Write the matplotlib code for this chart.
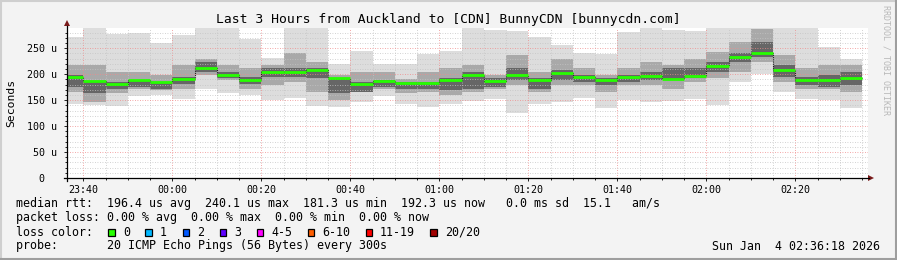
import datetime as dt
import matplotlib
matplotlib.use("Agg")
import matplotlib.pyplot as plt
import matplotlib.dates as mdates
from matplotlib.patches import Rectangle, Polygon
from matplotlib.lines import Line2D

# 5 minute steps, value stamped at the end of each step
step_end = [dt.datetime(2026, 1, 3, 23, 40) + dt.timedelta(minutes=5 * k) for k in range(36)]

median = [195, 187, 181, 188, 185, 191, 212, 199, 189, 204, 204, 208, 193, 181, 187, 183, 183, 189,
          199, 187, 199, 188, 203, 195, 189, 195, 197, 191, 197, 216, 233, 240, 208, 189, 188, 193]
ping_min = [143, 141, 139, 158, 160, 153, 172, 163, 160, 150, 154, 139, 137, 147, 158, 142, 137, 143,
            148, 152, 126, 142, 147, 154, 135, 150, 147, 148, 152, 140, 184, 201, 166, 153, 150, 135]
ping_max = [272, 289, 278, 280, 260, 276, 289, 289, 268, 231, 289, 289, 220, 244, 220, 220, 238, 244,
            289, 285, 283, 272, 256, 240, 238, 281, 289, 286, 283, 289, 289, 289, 289, 289, 252, 230]
band_lo = [166, 147, 163, 172, 169, 172, 198, 188, 172, 179, 185, 166, 150, 166, 172, 163, 166, 160,
           166, 172, 179, 166, 179, 179, 166, 179, 179, 172, 185, 192, 204, 224, 185, 172, 172, 166]
band_hi = [217, 218, 204, 204, 198, 217, 230, 217, 211, 217, 240, 224, 198, 204, 204, 191, 204, 211,
           217, 198, 237, 204, 230, 211, 198, 211, 224, 217, 230, 243, 262, 288, 237, 211, 217, 217]
core_lo = [176, 163, 172, 176, 172, 182, 204, 192, 182, 195, 195, 192, 163, 166, 176, 172, 172, 169,
           172, 176, 188, 172, 188, 185, 179, 185, 188, 188, 192, 204, 224, 233, 195, 179, 176, 179]
core_hi = [198, 187, 185, 188, 185, 195, 224, 204, 195, 211, 211, 211, 192, 185, 188, 185, 185, 192,
           204, 192, 211, 192, 208, 198, 192, 198, 204, 211, 211, 224, 240, 262, 217, 195, 198, 204]

loss_labels = ["0", "1", "2", "3", "4-5", "6-10", "11-19", "20/20"]
loss_colors = ["#26ff00", "#00b8ff", "#0059ff", "#5e00ff", "#ff00ff", "#ff5e00", "#ff0000", "#a10000"]

t_start = dt.datetime(2026, 1, 3, 23, 36, 18)
t_end = dt.datetime(2026, 1, 4, 2, 36, 18)

W, H = 897, 260
mono = "DejaVu Sans Mono"


def fx(px):
    return px / W


def fy(py):
    return 1 - py / H


fig = plt.figure(figsize=(W / 100, H / 100), dpi=100, facecolor="#f3f3f3")
ax = fig.add_axes([fx(67), fy(178), fx(868) - fx(67), fy(28) - fy(178)])
ax.set_facecolor("white")

step = dt.timedelta(minutes=5)
lefts = [t - step for t in step_end]
width = 5 / 1440

# smoke
ax.bar(lefts, [b - a for a, b in zip(ping_min, ping_max)], bottom=ping_min, width=width,
       align="edge", color="#dddddd", lw=0, zorder=1)
ax.bar(lefts, [b - a for a, b in zip(band_lo, band_hi)], bottom=band_lo, width=width,
       align="edge", color="#a9a9a9", lw=0, zorder=1.1)
ax.bar(lefts, [b - a for a, b in zip(core_lo, core_hi)], bottom=core_lo, width=width,
       align="edge", color="#666666", lw=0, zorder=1.2)

# median
ax.step(lefts + [step_end[-1]], median + [median[-1]], where="post", color="#202020",
        lw=0.8, ls=(0, (1, 1)), zorder=3)
ax.hlines(median, lefts, step_end, color=loss_colors[0], lw=2.0, zorder=4)

ax.set_xlim(t_start, t_end)
ax.set_ylim(0, 289)

ax.xaxis.set_major_locator(mdates.MinuteLocator(byminute=[0, 20, 40]))
ax.xaxis.set_minor_locator(mdates.MinuteLocator(byminute=range(0, 60, 5)))
ax.xaxis.set_major_formatter(mdates.DateFormatter("%H:%M"))
ax.set_yticks(range(0, 251, 50))
ax.set_yticks(range(0, 289, 10), minor=True)
ax.set_yticklabels(["0  ", "50 u", "100 u", "150 u", "200 u", "250 u"])

ax.grid(which="minor", color="#c4c4c4", ls=(0, (1, 2)), lw=0.6)
ax.grid(which="major", color="#f08a8a", ls=(0, (1, 2)), lw=0.6)
ax.set_axisbelow(False)

for s in ax.spines.values():
    s.set_visible(False)
ax.tick_params(which="both", length=2, width=0.6, color="black", labelsize=7.2)
ax.tick_params(which="minor", length=1.5)
ax.tick_params(axis="y", pad=5)
ax.tick_params(axis="x", pad=3)
for lab in ax.get_xticklabels() + ax.get_yticklabels():
    lab.set_family(mono)

# axes with arrows
fig.add_artist(Line2D([fx(67), fx(67)], [fy(181), fy(26)], color="black", lw=0.9))
fig.add_artist(Line2D([fx(64), fx(869)], [fy(178), fy(178)], color="black", lw=0.9))
fig.add_artist(Polygon([[fx(64), fy(26)], [fx(70), fy(26)], [fx(67), fy(20)]],
                       closed=True, color="#7a1a1a", lw=0))
fig.add_artist(Polygon([[fx(868), fy(175)], [fx(868), fy(181)], [fx(874), fy(178)]],
                       closed=True, color="#7a1a1a", lw=0))

# frame shading
fig.add_artist(Line2D([0, 1], [fy(0.5), fy(0.5)], color="#cfcfcf", lw=1.5))
fig.add_artist(Line2D([fx(0.5), fx(0.5)], [0, 1], color="#cfcfcf", lw=1.5))
fig.add_artist(Line2D([0, 1], [fy(259), fy(259)], color="#9e9e9e", lw=1.5))
fig.add_artist(Line2D([fx(896), fx(896)], [0, 1], color="#9e9e9e", lw=1.5))

fig.text(fx(448.5), fy(19), "Last 3 Hours from Auckland to [CDN] BunnyCDN [bunnycdn.com]",
         ha="center", va="center", family=mono, fontsize=9.4)
fig.text(fx(11), fy(103), "Seconds", rotation=90, ha="center", va="center",
         family=mono, fontsize=8.2)
fig.text(fx(886), fy(5), "RRDTOOL / TOBI OETIKER", rotation=270, ha="center", va="top",
         family=mono, fontsize=6, color="#b8b8b8")

fs = 8.4
fig.text(fx(15.5), fy(204),
         "median rtt:  196.4 us avg  240.1 us max  181.3 us min  192.3 us now   0.0 ms sd  15.1   am/s",
         ha="left", va="center", family=mono, fontsize=fs)
fig.text(fx(15.5), fy(218), "packet loss: 0.00 % avg  0.00 % max  0.00 % min  0.00 % now",
         ha="left", va="center", family=mono, fontsize=fs)
fig.text(fx(15.5), fy(232), "loss color:", ha="left", va="center", family=mono, fontsize=fs)
box_x = [108.3, 145, 182.7, 219.5, 256.7, 307.7, 365.7, 430]
lab_x = [123, 160, 197, 234, 271, 322, 380, 445]
for bx, lx, lab, col in zip(box_x, lab_x, loss_labels, loss_colors):
    fig.add_artist(Rectangle((fx(bx), fy(236.3)), 6.7 / W, 7 / H, facecolor=col,
                             edgecolor="black", lw=0.9))
    fig.text(fx(lx), fy(232), lab, ha="left", va="center", family=mono, fontsize=fs)
fig.text(fx(15.5), fy(246), "probe:       20 ICMP Echo Pings (56 Bytes) every 300s",
         ha="left", va="center", family=mono, fontsize=fs)
fig.text(fx(880), fy(246), "Sun Jan  4 02:36:18 2026", ha="right", va="center",
         family=mono, fontsize=fs)

fig.savefig("out.png", dpi=100, facecolor=fig.get_facecolor())
